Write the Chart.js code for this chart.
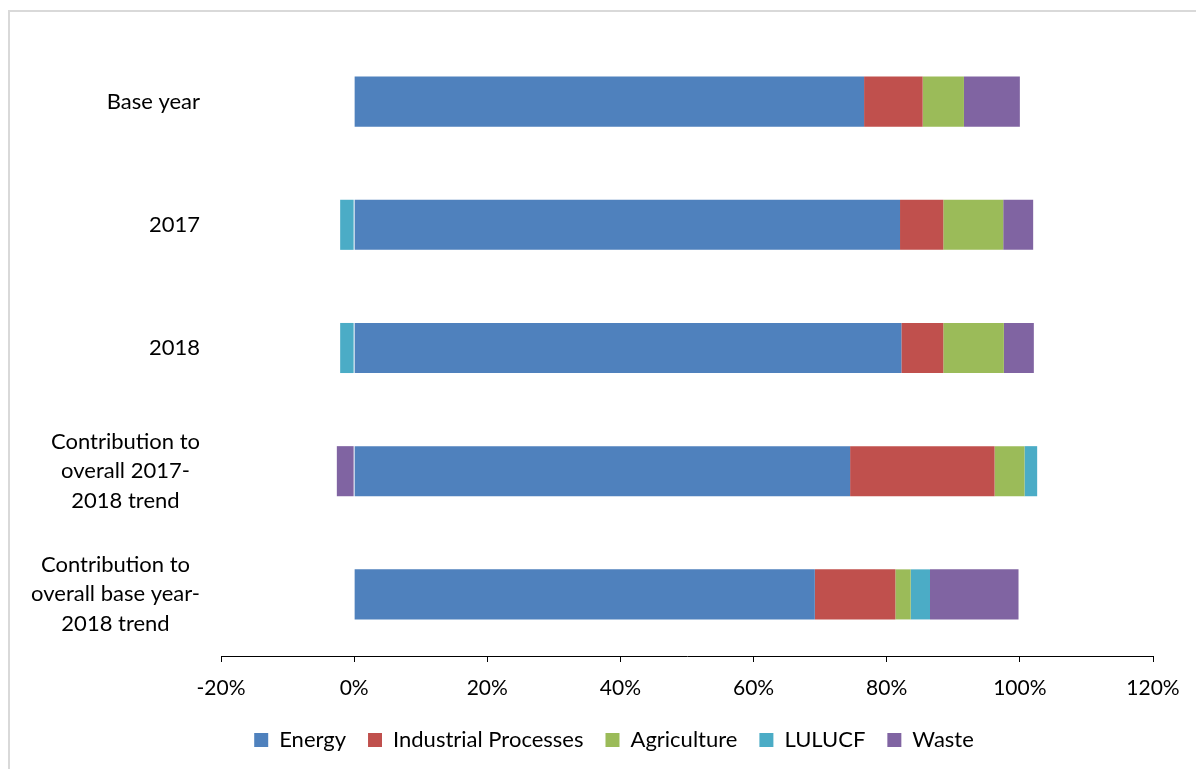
<!DOCTYPE html>
<html>
<head>
<meta charset="utf-8">
<script src="https://cdn.jsdelivr.net/npm/chart.js@4/dist/chart.umd.min.js"></script>
<style>
  html, body { margin: 0; padding: 0; background: #fff; overflow: hidden; }
  #wrap { position: relative; width: 1196px; height: 769px; }
  #frame { position: absolute; left: 8px; top: 10px; width: 1300px; height: 900px; border: 2px solid #d9d9d9; box-sizing: border-box; }
  canvas { position: absolute; left: 0; top: 0; }
</style>
</head>
<body>
<div id="wrap">
  <div id="frame"></div>
  <canvas id="c" width="1196" height="769"></canvas>
</div>
<script>
const categories = [
  'Base year',
  '2017',
  '2018',
  ['Contribution to', 'overall 2017-', '2018 trend'],
  ['Contribution to', 'overall base year-', '2018 trend']
];
const energy      = [76.6, 82.0, 82.2, 74.5, 69.2];
const industrial  = [8.8, 6.5, 6.3, 21.7, 12.1];
const agriculture = [6.2, 9.0, 9.1, 4.5, 2.3];
const lulucf      = [0, -2.1, -2.1, 1.9, 2.9];
const waste       = [8.4, 4.5, 4.5, -2.6, 13.3];
const xTicks = [-20, 0, 20, 40, 60, 80, 100, 120];

const FONT = 'Lato';
Chart.defaults.color = '#000';
Chart.defaults.font.family = FONT;
Chart.defaults.font.size = 22;

const yLabelPlugin = {
  id: 'yLabels',
  afterDraw(chart) {
    const ctx = chart.ctx;
    const ys = chart.scales.y;
    const right = ys.right - 21;
    const lh = 29.5;
    ctx.save();
    ctx.font = '22px ' + FONT;
    ctx.fillStyle = '#000';
    ctx.textAlign = 'center';
    ctx.textBaseline = 'middle';
    categories.forEach((lab, i) => {
      const lines = Array.isArray(lab) ? lab : [lab];
      const w = Math.max(...lines.map(l => ctx.measureText(l).width));
      const cx = right - w / 2;
      const yc = ys.getPixelForTick(i);
      const y0 = yc - (lines.length - 1) * lh / 2;
      lines.forEach((l, k) => ctx.fillText(l, cx, y0 + k * lh));
    });
    ctx.restore();
  }
};

const mk = (label, data, color) => ({
  label, data, backgroundColor: color, borderWidth: 0,
  barPercentage: 0.4065, categoryPercentage: 1.0
});

new Chart(document.getElementById('c'), {
  type: 'bar',
  data: {
    labels: categories,
    datasets: [
      mk('Energy', energy, '#4F81BD'),
      mk('Industrial Processes', industrial, '#C0504D'),
      mk('Agriculture', agriculture, '#9BBB59'),
      mk('LULUCF', lulucf, '#4BACC6'),
      mk('Waste', waste, '#8064A2')
    ]
  },
  options: {
    indexAxis: 'y',
    responsive: false,
    animation: false,
    devicePixelRatio: 1,
    layout: { padding: { top: 40, right: 43, left: 75, bottom: 8 } },
    plugins: {
      legend: {
        position: 'bottom',
        labels: {
          boxWidth: 14, boxHeight: 14, padding: 22,
          font: { size: 22, family: FONT }, color: '#000'
        }
      },
      tooltip: { enabled: false }
    },
    scales: {
      x: {
        stacked: true,
        min: -20, max: 120,
        afterBuildTicks(scale) { scale.ticks = xTicks.map(v => ({ value: v })); },
        afterFit(scale) { scale.height = 51; },
        ticks: {
          callback: v => v + '%',
          padding: 14,
          font: { size: 21, family: FONT }, color: '#000'
        },
        grid: { display: true, drawOnChartArea: false, drawTicks: true, tickLength: 6, color: '#000', lineWidth: 1 },
        border: { display: true, color: '#000', width: 1 }
      },
      y: {
        stacked: true,
        afterFit(scale) { scale.width = 146; },
        ticks: { display: false },
        grid: { display: false },
        border: { display: false }
      }
    }
  },
  plugins: [yLabelPlugin]
});
</script>
</body>
</html>
